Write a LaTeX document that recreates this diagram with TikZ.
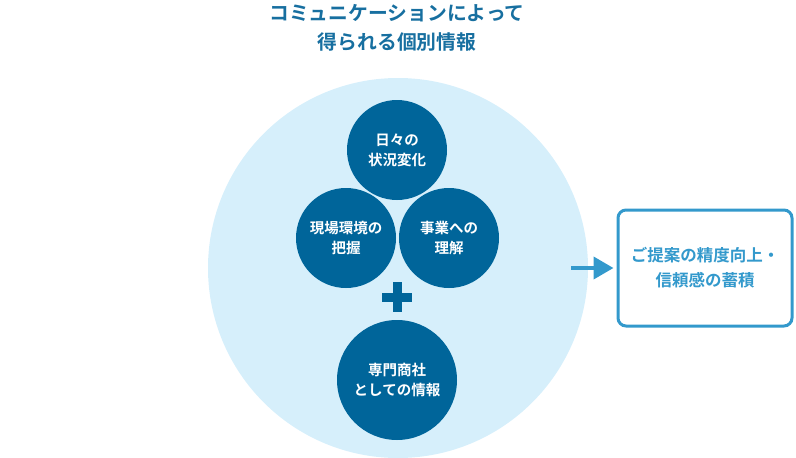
\documentclass[tikz,border=0pt]{standalone}
\usepackage{fontspec}
\newfontfamily\jpfont{Noto Sans CJK JP}[BoldFont={Noto Sans CJK JP Bold}]
\usetikzlibrary{arrows.meta}

\definecolor{deepblue}{HTML}{00659A}
\definecolor{paleblue}{HTML}{D6EFFB}
\definecolor{linkblue}{HTML}{3399CC}
\definecolor{headblue}{HTML}{176FA0}

\tikzset{
  topic/.style={circle,fill=deepblue,text=white,inner sep=0pt,align=center,
    font=\jpfont\bfseries\fontsize{14.5}{20}\selectfont},
  outcome/.style={draw=linkblue,line width=3pt,rounded corners=8pt,fill=white,
    text=linkblue,align=center,minimum width=174pt,minimum height=116pt,
    font=\jpfont\bfseries\fontsize{16.5}{25}\selectfont},
  flow/.style={draw=linkblue,line width=4pt,-{Triangle[length=20pt,width=22pt]}}
}

\begin{document}
\begin{tikzpicture}[x=1pt,y=-1pt]
  \useasboundingbox (0,0) rectangle (796,458);
  % heading
  \node[text=headblue,align=center,font=\jpfont\bfseries\fontsize{19.8}{29}\selectfont]
    (title) at (397,28) {コミュニケーションによって\\得られる個別情報};
  % pale background circle
  \node[circle,fill=paleblue,minimum size=380pt,inner sep=0pt] (bg) at (398,268) {};
  \begin{scope}
    \node[topic,minimum size=100pt] (daily) at (397,150) {日々の\\状況変化};
    \node[topic,minimum size=100pt] (site) at (346,238) {現場環境の\\把握};
    \node[topic,minimum size=100pt] (biz) at (449,238) {事業への\\理解};
    \node[topic,minimum size=120pt] (trade) at (397,380) {専門商社\\としての情報};
    \node[inner sep=0pt,minimum size=30pt] (plus) at (397,297) {};
    \fill[deepblue] ([yshift=-4.5pt]plus.west) rectangle ([yshift=4.5pt]plus.east);
    \fill[deepblue] ([xshift=-4.5pt]plus.north) rectangle ([xshift=4.5pt]plus.south);
  \end{scope}
  % result box
  \node[outcome] (result) at (705,268) {ご提案の精度向上・\\信頼感の蓄積};
  \coordinate (start) at (571,268);
  \draw[flow] (start) -- ([xshift=-3pt]result.west);
\end{tikzpicture}
\end{document}
